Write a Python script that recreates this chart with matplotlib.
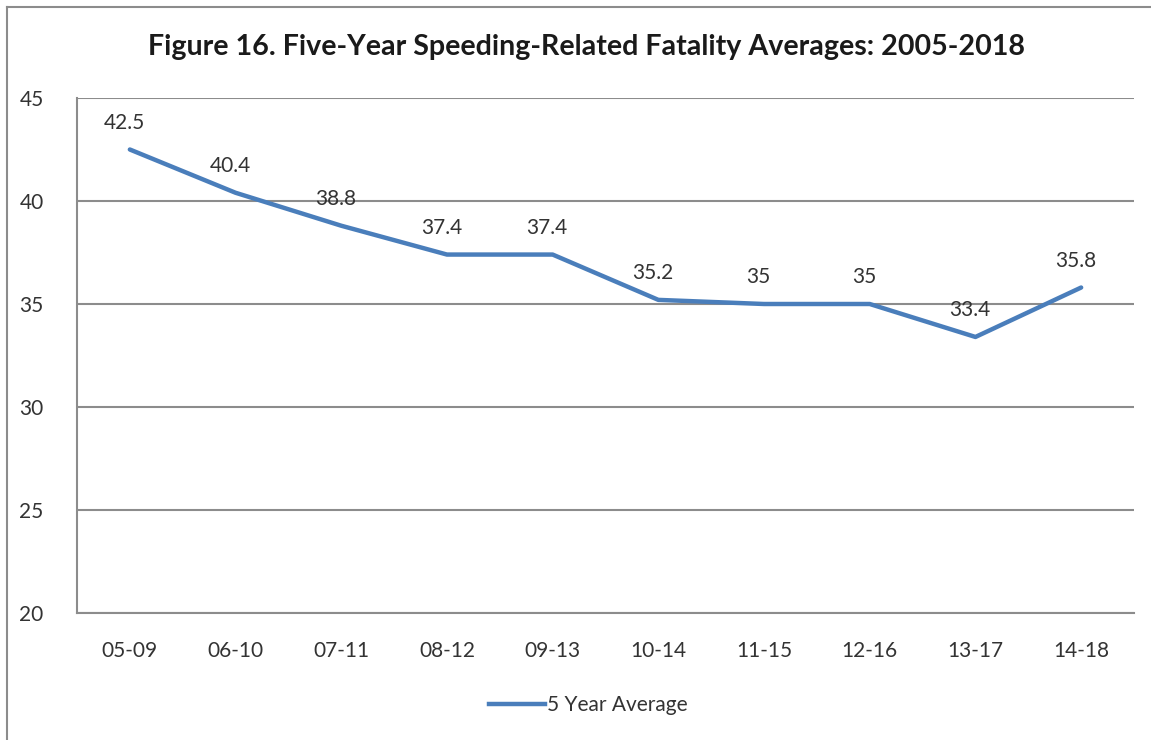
import matplotlib
matplotlib.use('Agg')
import matplotlib.pyplot as plt
from matplotlib.lines import Line2D

plt.rcParams['font.family'] = ['Lato', 'DejaVu Sans']

# Dados do gráfico
periods = ['05-09', '06-10', '07-11', '08-12', '09-13',
           '10-14', '11-15', '12-16', '13-17', '14-18']
averages = [42.5, 40.4, 38.8, 37.4, 37.4, 35.2, 35, 35, 33.4, 35.8]
value_labels = ['42.5', '40.4', '38.8', '37.4', '37.4',
                '35.2', '35', '35', '33.4', '35.8']
y_ticks = [20, 25, 30, 35, 40, 45]

W, H = 1151, 740
fig = plt.figure(figsize=(W / 100, H / 100), dpi=100)

# Moldura cinza do gráfico (estilo Excel)
fig.add_artist(Line2D([7 / W, 7 / W], [0, 1 - 7 / H], color='#8c8c8c', lw=1.5))
fig.add_artist(Line2D([7 / W, 1], [1 - 7 / H, 1 - 7 / H], color='#8c8c8c', lw=1.5))

left, right, top, bottom = 77, 1134, 98, 613
ax = fig.add_axes([left / W, 1 - bottom / H, (right - left) / W, (bottom - top) / H])

x = list(range(len(periods)))
ax.plot(x, averages, color='#4a7ebb', lw=3.2, solid_joinstyle='round',
        solid_capstyle='round', zorder=3)

for xi, v, lab in zip(x, averages, value_labels):
    ax.annotate(lab, (xi, v), xytext=(-4, 12), textcoords='offset points',
                ha='center', va='bottom', fontsize=15, color='#333333')

ax.set_xlim(-0.5, len(periods) - 0.5)
ax.set_ylim(20, 45)
ax.set_yticks(y_ticks)
ax.set_xticks(x)
ax.set_xticklabels(periods)
ax.tick_params(axis='both', length=0, labelsize=15, colors='#333333')
ax.tick_params(axis='y', pad=24)
ax.tick_params(axis='x', pad=20)
ax.grid(axis='y', color='#8c8c8c', lw=1.5)
ax.set_axisbelow(True)
for side in ['top', 'right']:
    ax.spines[side].set_visible(False)
for side in ['left', 'bottom']:
    ax.spines[side].set_color('#8c8c8c')
    ax.spines[side].set_linewidth(1.5)

fig.text(587 / W, 1 - 47 / H, 'Figure 16. Five-Year Speeding-Related Fatality Averages: 2005-2018',
         ha='center', va='center', fontsize=20.6, fontweight='bold', color='#1a1a1a')

handle = Line2D([], [], color='#4a7ebb', lw=3.2)
fig.legend([handle], ['5 Year Average'], loc='center', bbox_to_anchor=(588 / W, 1 - 705 / H),
           frameon=False, fontsize=15, handlelength=2.7, handletextpad=0.1,
           labelcolor='#333333')

plt.savefig('out.png', dpi=100)
